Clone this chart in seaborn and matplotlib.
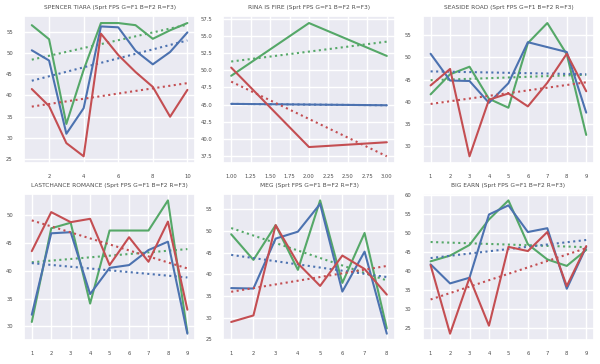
import numpy as np
import matplotlib
matplotlib.use('Agg')
import matplotlib.pyplot as plt
import seaborn as sns

sns.set_theme(style='darkgrid', color_codes=True)

# values, one list per fps field
spencer_x = [1, 2, 3, 4, 5, 6, 7, 8, 9, 10]
spencer_g = [56.5, 53.2, 33.3, 46.0, 57.0, 57.0, 56.5, 53.3, 55.3, 57.0]
spencer_b = [50.6, 48.2, 31.0, 37.0, 56.2, 56.0, 50.5, 47.3, 50.2, 54.8]
spencer_r = [41.5, 37.5, 28.8, 25.7, 54.5, 49.5, 45.5, 42.0, 35.0, 41.3]

rina_x = [1, 2, 3]
rina_g = [49.2, 56.9, 52.1]
rina_b = [45.1, 45.0, 44.9]
rina_r = [50.4, 38.8, 39.5]

seaside_x = [1, 2, 3, 4, 5, 6, 7, 8, 9]
seaside_g = [41.7, 46.2, 47.9, 40.7, 38.7, 53.2, 57.7, 50.7, 32.6]
seaside_b = [50.8, 44.8, 44.7, 39.8, 44.2, 53.4, 52.3, 51.2, 37.6]
seaside_r = [43.7, 47.4, 27.8, 40.5, 41.9, 39.0, 44.3, 50.8, 42.4]

lastchance_x = [1, 2, 3, 4, 5, 6, 7, 8, 9]
lastchance_g = [30.8, 47.6, 48.6, 34.1, 47.2, 47.2, 47.2, 52.6, 28.9]
lastchance_b = [32.1, 46.7, 46.9, 35.8, 40.5, 41.0, 43.7, 45.2, 28.7]
lastchance_r = [43.5, 50.5, 48.7, 49.3, 41.0, 46.0, 41.6, 48.8, 33.0]

meg_x = [1, 2, 3, 4, 5, 6, 7, 8]
meg_g = [49.2, 43.3, 51.3, 41.0, 57.0, 38.0, 49.5, 27.5]
meg_b = [36.8, 36.7, 48.2, 49.8, 56.2, 36.0, 45.2, 26.3]
meg_r = [29.0, 30.5, 51.3, 42.5, 37.3, 44.3, 41.2, 35.3]

bigearn_x = [1, 2, 3, 4, 5, 6, 7, 8, 9]
bigearn_g = [42.5, 44.0, 46.8, 53.5, 58.5, 47.0, 43.0, 41.3, 45.5]
bigearn_b = [41.7, 36.7, 38.2, 54.8, 57.2, 50.2, 51.2, 35.3, 46.3]
bigearn_r = [41.5, 23.5, 38.2, 25.6, 46.3, 45.2, 50.2, 36.0, 46.5]

horses = [
    ('SPENCER TIARA', spencer_x, spencer_g, spencer_b, spencer_r),
    ('RINA IS FIRE', rina_x, rina_g, rina_b, rina_r),
    ('SEASIDE ROAD', seaside_x, seaside_g, seaside_b, seaside_r),
    ('LASTCHANCE ROMANCE', lastchance_x, lastchance_g, lastchance_b, lastchance_r),
    ('MEG', meg_x, meg_g, meg_b, meg_r),
    ('BIG EARN', bigearn_x, bigearn_g, bigearn_b, bigearn_r),
]

fig, axes = plt.subplots(2, 3, figsize=(6, 3.64), dpi=100)
plt.subplots_adjust(left=0.04, right=0.99, top=0.955, bottom=0.065,
                    wspace=0.165, hspace=0.21)

for ax, (name, x, g, b, r) in zip(axes.flat, horses):
    for vals, c in [(g, 'g'), (b, 'b'), (r, 'r')]:
        sns.lineplot(x=x, y=vals, color=c, lw=1.5, ax=ax)
        sns.regplot(x=np.array(x, dtype=float), y=np.array(vals), scatter=False,
                    ci=None, color=c, ax=ax,
                    line_kws={'linestyle': ':', 'lw': 1.5})
    ax.set_title(name + ' (Sprt FPS G=F1 B=F2 R=F3)', fontsize=4.2,
                 color='.3', pad=5)
    ax.tick_params(labelsize=3.8, pad=2, labelcolor='.3')
    ax.set_xlabel('')
    ax.set_ylabel('')

plt.savefig('out.png', dpi=100)
